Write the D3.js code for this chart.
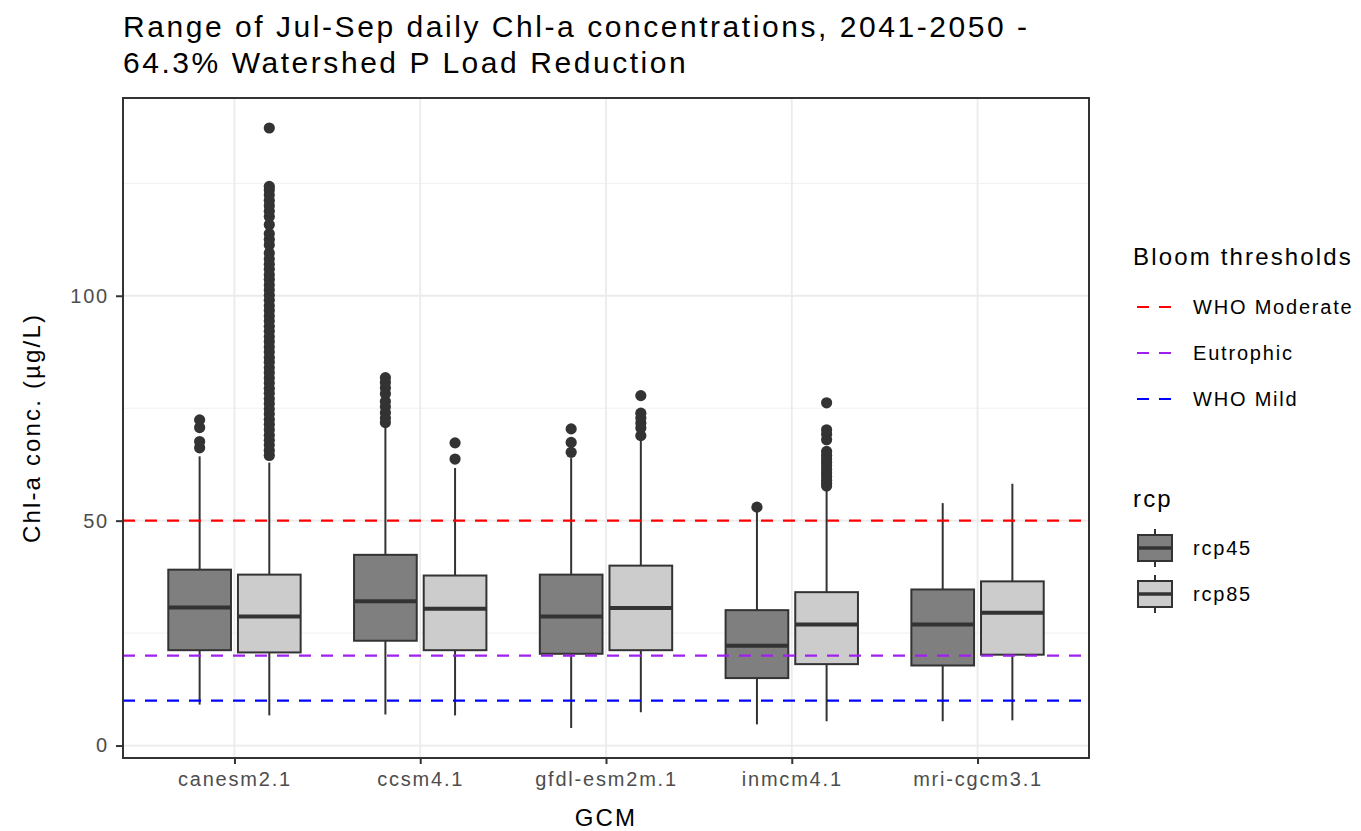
<!DOCTYPE html>
<html>
<head>
<meta charset="utf-8">
<script src="https://cdn.jsdelivr.net/npm/d3@7"></script>
<style>
  body { margin: 0; background: #fff; }
  text { font-family: "Liberation Sans", Arial, sans-serif; letter-spacing: 0.09em; }
</style>
</head>
<body>
<svg></svg>
<script>
var width  = 1361,
    height = 831;

// categories
var gcms = ["canesm2.1", "ccsm4.1", "gfdl-esm2m.1", "inmcm4.1", "mri-cgcm3.1"];
var rcps = ["rcp45", "rcp85"];

// [lower whisker, q1, median, q3, upper whisker] for each GCM
var rcp45Stats = [
  [9.1, 21.2, 30.7, 39.1, 64.3],
  [6.9, 23.3, 32.1, 42.4, 71.0],
  [3.9, 20.4, 28.7, 38.0, 63.9],
  [4.7, 15.0, 22.2, 30.1, 52.1],
  [5.4, 17.8, 26.9, 34.7, 53.9]
];
var rcp85Stats = [
  [6.7, 20.7, 28.7, 38.0, 62.9],
  [6.7, 21.2, 30.4, 37.8, 61.7],
  [7.4, 21.2, 30.6, 40.0, 68.0],
  [5.4, 18.1, 26.9, 34.1, 56.9],
  [5.6, 20.2, 29.5, 36.5, 58.2]
];

// outliers for each GCM
var rcp45Outliers = [
  [66.2, 67.6, 70.7, 72.4],
  [71.8, 72.8, 74.0, 75.3, 76.5, 78.2, 79.5, 80.7, 81.8],
  [65.2, 67.4, 70.4],
  [53.0],
  []
];
var rcp85Outliers = [
  [64.5, 65.6, 66.8, 67.9, 69.0, 70.2, 71.4, 72.5, 73.7, 74.8, 76.0, 77.1, 78.3,
   79.4, 80.6, 81.7, 82.9, 84.0, 85.2, 86.3, 87.5, 88.6, 89.8, 90.9, 92.1, 93.2,
   94.4, 95.5, 96.7, 97.8, 99.0, 100.1, 101.3, 102.4, 103.6, 104.7, 105.9, 107.0,
   108.2, 109.5, 111.3, 112.5, 113.8, 115.8, 117.6, 118.8, 120.0, 121.2, 122.4,
   123.5, 124.3, 137.3],
  [63.7, 67.3],
  [68.9, 70.6, 71.7, 72.8, 73.9, 77.8],
  [57.7, 58.3, 59.0, 59.8, 60.6, 61.4, 62.2, 63.0, 63.7, 64.5, 65.4, 68.0, 69.2, 70.2, 76.2],
  []
];

// threshold lines
var thresholdNames  = ["WHO Moderate", "Eutrophic", "WHO Mild"];
var thresholdValues = [50, 20, 10];
var thresholdColors = ["#ff0000", "#a020f0", "#0000ff"];

var yTicks      = [0, 50, 100];
var yMinorTicks = [25, 75, 125];

var fills = {rcp45: "#7f7f7f", rcp85: "#cccccc"};

var panel = {left: 123, right: 1089, top: 98, bottom: 758};

var svg = d3.select('svg')
  .attr("width", width)
  .attr("height", height);

var x = d3.scalePoint()
  .domain(gcms)
  .range([panel.left, panel.right])
  .padding(0.6);
var step = x.step();

var dodge = d3.scaleBand()
  .domain(rcps)
  .range([-0.375 * step, 0.375 * step]);
var boxW = dodge.bandwidth() * 0.9;

var allVals = [];
rcp45Stats.concat(rcp85Stats).forEach(function(s) { allVals.push(s[0], s[4]); });
rcp45Outliers.concat(rcp85Outliers).forEach(function(o) { allVals = allVals.concat(o); });
var lo = d3.min(allVals), hi = d3.max(allVals), pad = (hi - lo) * 0.05;

var y = d3.scaleLinear()
  .domain([lo - pad, hi + pad])
  .range([panel.bottom, panel.top]);

// grid
var grid = svg.append("g");
grid.selectAll(".minor")
  .data(yMinorTicks)
  .enter()
    .append("line")
    .attr("x1", panel.left).attr("x2", panel.right)
    .attr("y1", function(d){return y(d);}).attr("y2", function(d){return y(d);})
    .attr("stroke", "#f0f0f0").attr("stroke-width", 1);
grid.selectAll(".major")
  .data(yTicks)
  .enter()
    .append("line")
    .attr("x1", panel.left).attr("x2", panel.right)
    .attr("y1", function(d){return y(d);}).attr("y2", function(d){return y(d);})
    .attr("stroke", "#ebebeb").attr("stroke-width", 1.8);
grid.selectAll(".vmajor")
  .data(gcms)
  .enter()
    .append("line")
    .attr("x1", function(d){return x(d);}).attr("x2", function(d){return x(d);})
    .attr("y1", panel.top).attr("y2", panel.bottom)
    .attr("stroke", "#ebebeb").attr("stroke-width", 1.8);

// boxes
var boxes = [];
gcms.forEach(function(g, i) {
  boxes.push({gcm: g, rcp: "rcp45", s: rcp45Stats[i], out: rcp45Outliers[i]});
  boxes.push({gcm: g, rcp: "rcp85", s: rcp85Stats[i], out: rcp85Outliers[i]});
});

var bg = svg.append("g")
  .selectAll("g")
  .data(boxes)
  .enter()
    .append("g")
    .attr("transform", function(d){return "translate(" + (x(d.gcm) + dodge(d.rcp) + dodge.bandwidth() / 2) + ",0)";});

bg.append("line")
  .attr("y1", function(d){return y(d.s[0]);})
  .attr("y2", function(d){return y(d.s[1]);})
  .attr("stroke", "#333").attr("stroke-width", 2);
bg.append("line")
  .attr("y1", function(d){return y(d.s[3]);})
  .attr("y2", function(d){return y(d.s[4]);})
  .attr("stroke", "#333").attr("stroke-width", 2);
bg.append("rect")
  .attr("x", -boxW / 2)
  .attr("width", boxW)
  .attr("y", function(d){return y(d.s[3]);})
  .attr("height", function(d){return y(d.s[1]) - y(d.s[3]);})
  .attr("fill", function(d){return fills[d.rcp];})
  .attr("stroke", "#333").attr("stroke-width", 2);
bg.append("line")
  .attr("x1", -boxW / 2).attr("x2", boxW / 2)
  .attr("y1", function(d){return y(d.s[2]);})
  .attr("y2", function(d){return y(d.s[2]);})
  .attr("stroke", "#333").attr("stroke-width", 4);
bg.selectAll("circle")
  .data(function(d){return d.out;})
  .enter()
    .append("circle")
    .attr("r", 5.6)
    .attr("cy", function(d){return y(d);})
    .attr("fill", "#333");

// threshold lines
svg.append("g")
  .selectAll("line")
  .data(thresholdValues)
  .enter()
    .append("line")
    .attr("x1", panel.left).attr("x2", panel.right)
    .attr("y1", function(d){return y(d);}).attr("y2", function(d){return y(d);})
    .attr("stroke", function(d, i){return thresholdColors[i];})
    .attr("stroke-width", 2.2)
    .attr("stroke-dasharray", "12,10");

// panel border
svg.append("rect")
  .attr("x", panel.left).attr("y", panel.top)
  .attr("width", panel.right - panel.left)
  .attr("height", panel.bottom - panel.top)
  .attr("fill", "none").attr("stroke", "#333").attr("stroke-width", 2);

// axes
var xAxis = svg.append("g")
  .attr("transform", "translate(0," + panel.bottom + ")")
  .call(d3.axisBottom(x).tickSize(6).tickPadding(8));
var yAxis = svg.append("g")
  .attr("transform", "translate(" + panel.left + ",0)")
  .call(d3.axisLeft(y).tickValues(yTicks).tickSize(7).tickPadding(7));
[xAxis, yAxis].forEach(function(a) {
  a.select(".domain").remove();
  a.selectAll(".tick line").attr("stroke", "#333").attr("stroke-width", 2);
  a.selectAll(".tick text")
    .attr("fill", "#4d4d4d")
    .style("font-size", "20px")
    .style("font-family", "Liberation Sans, Arial, sans-serif");
});

// titles
var title = svg.append("text")
  .attr("x", 123).attr("y", 37)
  .style("font-size", "30px")
  .style("letter-spacing", "0.085em")
  .attr("fill", "#000");
title.append("tspan").attr("x", 123).text("Range of Jul-Sep daily Chl-a concentrations, 2041-2050 -");
title.append("tspan").attr("x", 123).attr("dy", 36).text("64.3% Watershed P Load Reduction");

svg.append("text")
  .attr("x", (panel.left + panel.right) / 2).attr("y", 826)
  .attr("text-anchor", "middle")
  .style("font-size", "24px")
  .text("GCM");

svg.append("text")
  .attr("transform", "translate(40," + ((panel.top + panel.bottom) / 2) + ") rotate(-90)")
  .attr("text-anchor", "middle")
  .style("font-size", "24px")
  .text("Chl-a conc. (\u00b5g/L)");

// legend: thresholds
var leg = svg.append("g");
leg.append("text")
  .attr("x", 1133).attr("y", 265)
  .style("font-size", "24px")
  .text("Bloom thresholds");
var tk = leg.selectAll(".tk")
  .data(thresholdNames)
  .enter()
    .append("g")
    .attr("transform", function(d, i){return "translate(1137," + (307 + i * 46) + ")";});
tk.append("line")
  .attr("x1", 0).attr("x2", 36)
  .attr("stroke", function(d, i){return thresholdColors[i];})
  .attr("stroke-width", 2.2)
  .attr("stroke-dasharray", "12,10");
tk.append("text")
  .attr("x", 56).attr("y", 7)
  .style("font-size", "20px")
  .text(function(d){return d;});

// legend: rcp
leg.append("text")
  .attr("x", 1133).attr("y", 507)
  .style("font-size", "24px")
  .text("rcp");
var rk = leg.selectAll(".rk")
  .data(rcps)
  .enter()
    .append("g")
    .attr("transform", function(d, i){return "translate(1155," + (548 + i * 46) + ")";});
rk.append("line")
  .attr("y1", -19).attr("y2", 19)
  .attr("stroke", "#333").attr("stroke-width", 2);
rk.append("rect")
  .attr("x", -17).attr("y", -13).attr("width", 34).attr("height", 26)
  .attr("fill", function(d){return fills[d];})
  .attr("stroke", "#333").attr("stroke-width", 2);
rk.append("line")
  .attr("x1", -17).attr("x2", 17)
  .attr("stroke", "#333").attr("stroke-width", 3.5);
rk.append("text")
  .attr("x", 38).attr("y", 7)
  .style("font-size", "20px")
  .text(function(d){return d;});
</script>
</body>
</html>
